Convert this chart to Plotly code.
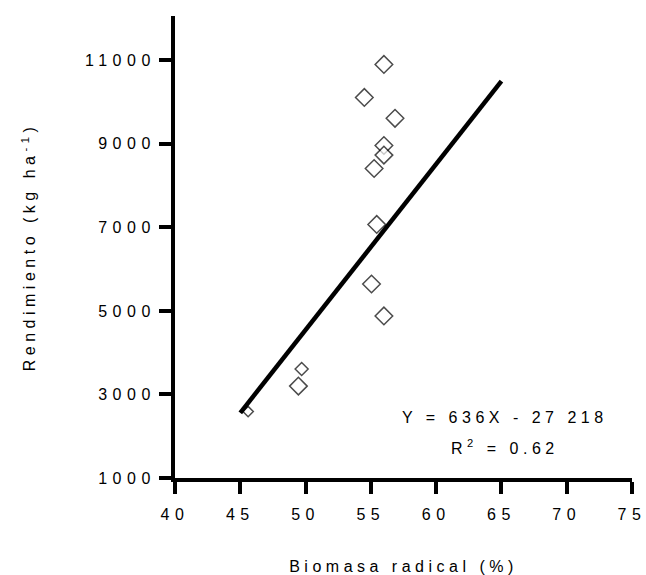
import plotly.graph_objects as go

# Data
biomasa = [56.0, 54.5, 56.85, 56.0, 56.0, 55.25, 55.45, 55.05, 56.0, 49.7, 49.45, 45.6]
rendimiento = [10900, 10110, 9610, 8960, 8730, 8410, 7070, 5645, 4880, 3610, 3200, 2590]

fit_x = [45.0, 65.0]
fit_y = [2560, 10500]

x_ticks = [40, 45, 50, 55, 60, 65, 70, 75]
y_ticks = [1000, 3000, 5000, 7000, 9000, 11000]

equation = "Y = 636X - 27 218"
r2_text = "R<sup>2</sup> = 0.62"
x_title = "Biomasa radical (%)"
y_title = "Rendimiento (kg ha<sup>-1</sup>)"

LS = "letter-spacing:4.5px"
LS_TICK = "letter-spacing:5.5px"


def spaced(t, ls=LS):
    return f'<span style="{ls}">{t}</span>'


FONT = "Liberation Sans, Arial, sans-serif"

marker_sizes = [13.5] * 9 + [10, 13.5, 8]

fig = go.Figure()
fig.add_trace(go.Scatter(
    x=biomasa, y=rendimiento, mode="markers",
    marker=dict(symbol="diamond", size=marker_sizes, color="white",
                line=dict(color="black", width=1.5)),
    showlegend=False, hoverinfo="skip"))
fig.add_trace(go.Scatter(
    x=fit_x, y=fit_y, mode="lines",
    line=dict(color="black", width=4.5),
    showlegend=False, hoverinfo="skip"))

fig.add_annotation(x=65.25, y=2440, xref="x", yref="y", text=spaced(equation),
                   showarrow=False, font=dict(family=FONT, size=16, color="black"))
fig.add_annotation(x=65.25, y=1740, xref="x", yref="y", text=spaced(r2_text),
                   showarrow=False, font=dict(family=FONT, size=16, color="black"))

axis_common = dict(showline=True, linewidth=4, linecolor="black",
                   ticks="outside", ticklen=12, tickwidth=4, tickcolor="black",
                   showgrid=False, zeroline=False, ticklabeloverflow="allow",
                   tickfont=dict(family=FONT, size=16, color="black"))

fig.update_xaxes(range=[40, 75], tickvals=x_ticks,
                 ticktext=[spaced(str(v), LS_TICK) for v in x_ticks],
                 ticklabelstandoff=7,
                 title=dict(text=spaced(x_title), standoff=45,
                            font=dict(family=FONT, size=16, color="black")),
                 **axis_common)
fig.update_yaxes(range=[1000, 12060], tickvals=y_ticks,
                 ticktext=[spaced(str(v), LS_TICK) for v in y_ticks],
                 title=dict(text=spaced(y_title), standoff=46,
                            font=dict(family=FONT, size=16, color="black")),
                 **axis_common)

fig.update_layout(width=646, height=575,
                  margin=dict(l=175, r=14, t=16, b=97, autoexpand=False),
                  plot_bgcolor="white", paper_bgcolor="white",
                  font=dict(family=FONT, size=16, color="black"))

fig.write_html("out.html", config={"displayModeBar": False},
               post_script="document.body.style.margin='0';document.body.style.padding='0';")
